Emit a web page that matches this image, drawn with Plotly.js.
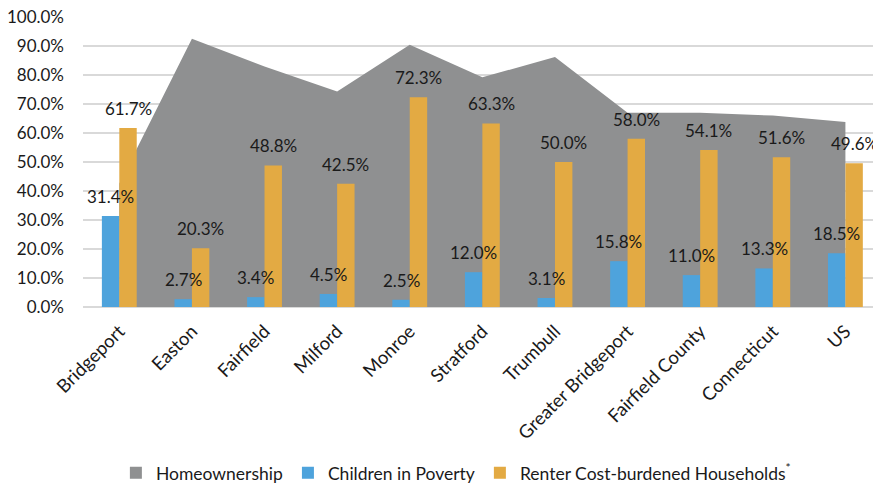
<!DOCTYPE html>
<html>
<head>
<meta charset="utf-8">
<script src="https://cdn.plot.ly/plotly-3.0.1.min.js"></script>
<style>
html,body{margin:0;padding:0;background:#fff;}
#chart{width:873px;height:485px;}
</style>
</head>
<body>
<div id="chart"></div>
<script>
const categories = ["Bridgeport","Easton","Fairfield","Milford","Monroe","Stratford","Trumbull","Greater Bridgeport","Fairfield County","Connecticut","US"];
const homeownership = [0.426,0.925,0.829,0.743,0.904,0.792,0.862,0.670,0.670,0.660,0.638];
const childrenPoverty = [0.314,0.027,0.034,0.045,0.025,0.120,0.031,0.158,0.110,0.133,0.185];
const renterBurdened = [0.617,0.203,0.488,0.425,0.723,0.633,0.500,0.580,0.541,0.516,0.496];
const yTickVals = [0,0.1,0.2,0.3,0.4,0.5,0.6,0.7,0.8,0.9,1.0];

const FONT = "Lato, 'Noto Sans', sans-serif";
const BARGAP = 0.52;
const half = (1 - BARGAP) / 4;
const GRAY = '#8f9091', BLUE = '#4ea3dc', GOLD = '#e3aa43';

const traces = [
  // legend-only square for the area series
  {
    type: 'bar', x: [categories[0]], y: [null], name: 'Homeownership',
    marker: {color: GRAY}, xaxis: 'x', yaxis: 'y', hoverinfo: 'skip'
  },
  {
    type: 'scatter', x: categories, y: homeownership, name: 'Homeownership',
    mode: 'none', fill: 'tozeroy', fillcolor: GRAY, hoverinfo: 'skip',
    showlegend: false, xaxis: 'x', yaxis: 'y'
  },
  {
    type: 'bar', x: categories, y: childrenPoverty, name: 'Children in Poverty',
    marker: {color: BLUE}, xaxis: 'x2', yaxis: 'y2'
  },
  {
    type: 'bar', x: categories, y: renterBurdened, name: 'Renter Cost-burdened Households<sup>*</sup>',
    marker: {color: GOLD}, xaxis: 'x2', yaxis: 'y2'
  }
];

const fmt = v => (v * 100).toFixed(1) + '%';
const annotations = [];
categories.forEach((c, i) => {
  annotations.push({x: i - half, y: childrenPoverty[i], xref: 'x', yref: 'y', text: fmt(childrenPoverty[i]),
    showarrow: false, yanchor: 'bottom', yshift: 7, font: {family: FONT, size: 17, color: '#1a1a1a'}});
  annotations.push({x: i + half, y: renterBurdened[i], xref: 'x', yref: 'y', text: fmt(renterBurdened[i]),
    showarrow: false, yanchor: 'bottom', yshift: 7, font: {family: FONT, size: 17, color: '#1a1a1a'}});
});

const xRange = [-0.5, 10.38];
const layout = {
  width: 873, height: 485,
  margin: {l: 83, r: 0, t: 17, b: 178, autoexpand: false},
  paper_bgcolor: '#ffffff', plot_bgcolor: '#ffffff',
  font: {family: FONT, size: 16, color: '#1a1a1a'},
  barmode: 'group', bargap: BARGAP, bargroupgap: 0,
  showlegend: true,
  legend: {orientation: 'h', x: 0.472, xanchor: 'center', y: -0.572, yanchor: 'middle',
    font: {family: FONT, size: 17.5, color: '#1a1a1a'}, traceorder: 'normal'},
  xaxis: {
    type: 'category', range: xRange, tickangle: -45,
    showgrid: false, zeroline: false, showline: false, ticks: '',
    ticklabelstandoff: 9,
    tickfont: {family: FONT, size: 18.5, color: '#1a1a1a'}
  },
  xaxis2: {
    type: 'category', range: xRange, overlaying: 'x', showticklabels: false,
    showgrid: false, zeroline: false, showline: false, ticks: ''
  },
  yaxis: {
    range: [0, 1.0], tickvals: yTickVals, tickformat: '.1%',
    showgrid: true, gridcolor: '#d9d9d9', gridwidth: 1.5,
    zeroline: true, zerolinecolor: '#d9d9d9', zerolinewidth: 1.5,
    showline: false, ticks: '', ticklabelstandoff: 18,
    tickfont: {family: FONT, size: 17, color: '#1a1a1a'}
  },
  yaxis2: {
    range: [0, 1.0], overlaying: 'y', showticklabels: false,
    showgrid: false, zeroline: false, showline: false, ticks: ''
  },
  annotations: annotations
};

Plotly.newPlot('chart', traces, layout, {displayModeBar: false, staticPlot: true});
</script>
</body>
</html>
